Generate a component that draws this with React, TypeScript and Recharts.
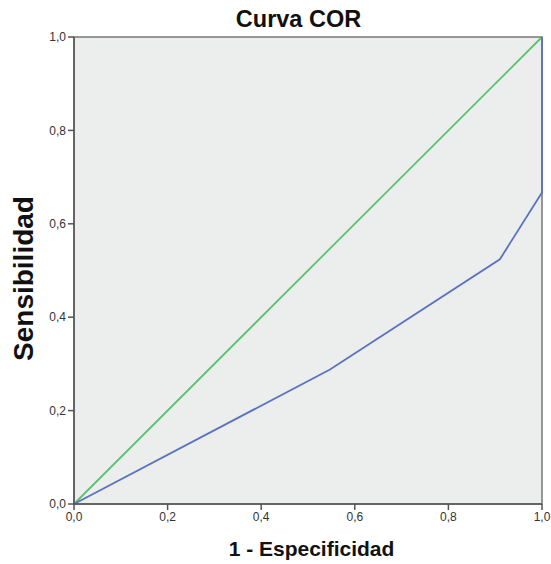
import React from 'react';
import { LineChart, Line, XAxis, YAxis, CartesianGrid, ReferenceArea } from 'recharts';

const rocX = [0, 0.547, 0.91, 1.0, 1.0];
const rocY = [0, 0.288, 0.524, 0.667, 1.0];
const refX = [0, 1];
const refY = [0, 1];
const ticks = [0, 0.2, 0.4, 0.6, 0.8, 1.0];

const rocData = rocX.map((x, i) => ({ x, y: rocY[i] }));
const refData = refX.map((x, i) => ({ x, y: refY[i] }));

const fmt = (v: number) => v.toFixed(1).replace('.', ',');
const font = 'Liberation Sans, Arial, sans-serif';

export default function App() {
  return (
    <div style={{ position: 'absolute', left: 0, top: 0, width: 551, height: 564, background: '#fff' }}>
      <LineChart width={551} height={564} margin={{ top: 37, right: 9, left: 34, bottom: 40 }}>
        <CartesianGrid fill="#ECEEED" horizontal={false} vertical={false} />
        <ReferenceArea x1={0} x2={1} y1={0} y2={1} fill="none" stroke="#777" strokeWidth={1.5} ifOverflow="visible" />
        <XAxis
          type="number"
          dataKey="x"
          domain={[0, 1]}
          ticks={ticks}
          tickFormatter={fmt}
          height={20}
          stroke="#555"
          strokeWidth={1.5}
          tickSize={6}
          tick={{ fill: '#333', fontSize: 12, fontFamily: font }}
          allowDuplicatedCategory={false}
        />
        <YAxis
          type="number"
          dataKey="y"
          domain={[0, 1]}
          ticks={ticks}
          tickFormatter={fmt}
          width={40}
          stroke="#555"
          strokeWidth={1.5}
          tickSize={6}
          tick={{ fill: '#333', fontSize: 12, fontFamily: font }}
        />
        <Line data={refData} dataKey="y" type="linear" stroke="#5DC171" strokeWidth={1.8} dot={false} isAnimationActive={false} />
        <Line data={rocData} dataKey="y" type="linear" stroke="#5A72C0" strokeWidth={1.8} dot={false} isAnimationActive={false} />
        <text x={298.5} y={27} textAnchor="middle" fontFamily={font} fontWeight="bold" fontSize={23.5} fill="#111">Curva COR</text>
        <text x={311.5} y={556} textAnchor="middle" fontFamily={font} fontWeight="bold" fontSize={21} fill="#111">1 - Especificidad</text>
        <text x={33} y={278.5} textAnchor="middle" fontFamily={font} fontWeight="bold" fontSize={28} fill="#111" transform="rotate(-90 33 278.5)">Sensibilidad</text>
      </LineChart>
    </div>
  );
}
